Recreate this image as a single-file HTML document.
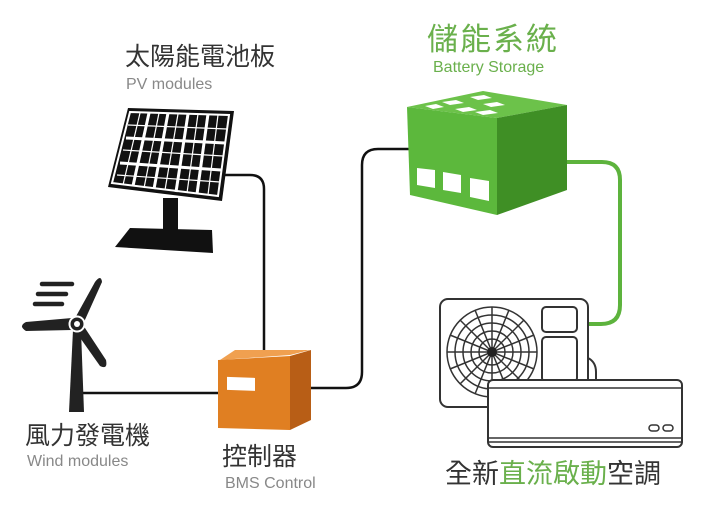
<!DOCTYPE html>
<html><head><meta charset="utf-8"><style>
body{margin:0;background:#fff;width:720px;height:512px;overflow:hidden;position:relative;font-family:"Liberation Sans","Noto Sans CJK TC",sans-serif}
.t{position:absolute;white-space:nowrap;line-height:1}
</style></head><body>
<svg width="720" height="512" style="position:absolute;left:0;top:0">
<path d="M222 175 H250 Q264 175 264 189 V356" fill="none" stroke="#111" stroke-width="2.5"/>
<path d="M82 393 H222" fill="none" stroke="#111" stroke-width="2.5"/>
<path d="M308 388 H346 Q362 388 362 372 V165 Q362 149 378 149 H410" fill="none" stroke="#111" stroke-width="2.5"/>
<path d="M566 162 H602 Q620 162 620 180 V305 Q620 324 601 324 H586" fill="none" stroke="#5db33d" stroke-width="4"/>
<!-- solar panel -->
<polygon points="163,198 178,198 178,232 163,232" fill="#111"/>
<polygon points="130,228 212,230 213,253 115,247" fill="#111"/>
<polygon points="128,108 234,111 222,201 108,187" fill="#111"/>
<g stroke="#fff" stroke-width="3" fill="none">
<polygon points="130,112 229,115 218,196 112,183" stroke-width="2"/>
<line x1="126" y1="138" x2="225" y2="143"/>
<line x1="120" y1="163" x2="221" y2="170"/>
<line x1="149" y1="113" x2="133" y2="186"/>
<line x1="168" y1="113" x2="154" y2="189"/>
<line x1="188" y1="114" x2="176" y2="192"/>
<line x1="208" y1="114" x2="197" y2="194"/>
</g>
<g stroke="#fff" stroke-width="1.2" fill="none">
<line x1="128" y1="125" x2="227" y2="129"/>
<line x1="123" y1="150" x2="223" y2="156"/>
<line x1="117" y1="175" x2="220" y2="182"/>
<line x1="140" y1="113" x2="123" y2="185"/>
<line x1="159" y1="113" x2="144" y2="188"/>
<line x1="178" y1="114" x2="165" y2="190"/>
<line x1="198" y1="114" x2="187" y2="193"/>
<line x1="218" y1="115" x2="208" y2="195"/>
</g>
<!-- wind turbine -->
<polygon points="73,330 81,330 84,412 69,412" fill="#222"/>
<path d="M74 320 L95 282 Q101 274 102 282 L84 322 Z" fill="#222"/>
<path d="M72 318 L26 322 Q18 326 26 331 L72 330 Z" fill="#222"/>
<path d="M83 325 L106 360 Q108 370 100 366 L76 332 Z" fill="#222"/>
<circle cx="77" cy="324" r="7.5" fill="#222" stroke="#fff" stroke-width="2"/>
<circle cx="77" cy="324" r="3" fill="#fff"/>
<g stroke="#222" stroke-width="4.5" stroke-linecap="round">
<line x1="42" y1="284" x2="72" y2="284"/>
<line x1="38" y1="294" x2="66" y2="294"/>
<line x1="35" y1="304" x2="62" y2="304"/>
</g>
<!-- controller -->
<polygon points="220,360 290,355 310,350 235,350" fill="#f0a050"/>
<polygon points="218,360 290,356 290,430 218,428" fill="#e07f22"/>
<polygon points="290,356 311,350 311,420 290,430" fill="#b85e16"/>
<rect x="227" y="369" width="28" height="13" fill="#fff" transform="skewY(2)"/>
<!-- battery -->
<polygon points="407,107 483,91 567,105 497,118" fill="#6cc24a"/>
<polygon points="407,107 497,118 497,215 410,195" fill="#5cb83c"/>
<polygon points="497,118 567,105 567,190 497,215" fill="#3f8f25"/>
<g fill="#fff">
<polygon points="442,102 456,100 464,103 450,105"/>
<polygon points="470,97 484,95 492,98 478,100"/>
<polygon points="455,109 469,107 477,110 463,112"/>
<polygon points="483,104 497,102 505,105 491,107"/>
<polygon points="425,106 436,104 444,107 433,109"/>
<polygon points="475,112 490,110 498,113 483,115"/>
<polygon points="417,168 435,170 435,188 417,185"/>
<polygon points="443,172 461,175 461,193 443,190"/>
<polygon points="470,178 489,181 489,201 470,197"/>
</g>
<!-- AC outdoor -->
<rect x="440" y="299" width="148" height="108" rx="8" fill="#fff" stroke="#333" stroke-width="2"/>
<rect x="542" y="307" width="35" height="25" rx="4" fill="#fff" stroke="#333" stroke-width="2"/>
<rect x="542" y="337" width="35" height="45" rx="4" fill="#fff" stroke="#333" stroke-width="2"/>
<path d="M588 358 Q596 362 596 372 V380" fill="none" stroke="#333" stroke-width="2"/>
<g fill="none" stroke="#333" stroke-width="1.5">
<circle cx="492" cy="352" r="45"/><circle cx="492" cy="352" r="37"/><circle cx="492" cy="352" r="29"/><circle cx="492" cy="352" r="21"/><circle cx="492" cy="352" r="13"/>
<line x1="447" y1="352" x2="537" y2="352"/><line x1="492" y1="307" x2="492" y2="397"/>
<line x1="460" y1="320" x2="524" y2="384"/><line x1="524" y1="320" x2="460" y2="384"/>
<line x1="450" y1="335" x2="534" y2="369"/><line x1="450" y1="369" x2="534" y2="335"/>
<line x1="475" y1="310" x2="509" y2="394"/><line x1="509" y1="310" x2="475" y2="394"/>
</g>
<circle cx="492" cy="352" r="5" fill="#222"/>
<!-- AC indoor -->
<rect x="488" y="380" width="194" height="67" rx="5" fill="#fff" stroke="#333" stroke-width="2"/>
<line x1="489" y1="438" x2="681" y2="438" stroke="#333" stroke-width="1.5"/>
<line x1="489" y1="442" x2="681" y2="442" stroke="#333" stroke-width="1.5"/>
<line x1="489" y1="388" x2="681" y2="388" stroke="#333" stroke-width="1.5"/>
<rect x="649" y="425" width="10" height="6" rx="3" fill="none" stroke="#333" stroke-width="1.5"/>
<rect x="663" y="425" width="10" height="6" rx="3" fill="none" stroke="#333" stroke-width="1.5"/>
</svg>
<div class="t" style="left:125px;top:45px;font-size:25px;color:#333">太陽能電池板</div>
<div class="t" style="left:126px;top:77px;font-size:16px;color:#888">PV modules</div>
<div class="t" style="left:427px;top:24px;font-size:31px;color:#6ab04c;letter-spacing:2px">儲能系統</div>
<div class="t" style="left:433px;top:60px;font-size:16px;color:#6ab04c">Battery Storage</div>
<div class="t" style="left:25px;top:424px;font-size:25px;color:#333">風力發電機</div>
<div class="t" style="left:27px;top:454px;font-size:16px;color:#888">Wind modules</div>
<div class="t" style="left:222px;top:445px;font-size:25px;color:#333">控制器</div>
<div class="t" style="left:225px;top:476px;font-size:16px;color:#888">BMS Control</div>
<div class="t" style="left:445px;top:461px;font-size:27px;color:#333">全新<span style="color:#6ab04c">直流啟動</span>空調</div>
</body></html>
